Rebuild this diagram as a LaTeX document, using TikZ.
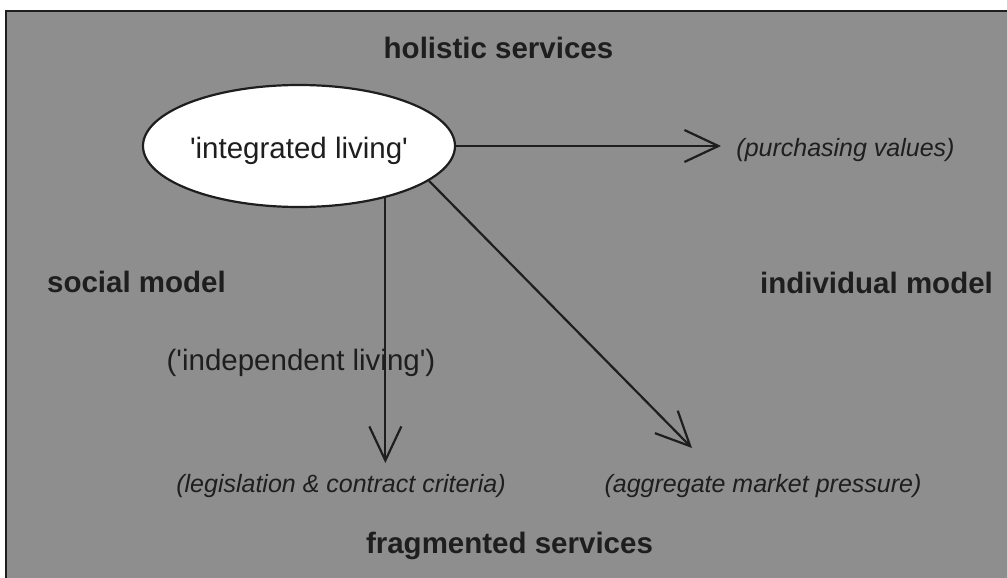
\documentclass[tikz,border=0pt]{standalone}
\usepackage{fontspec}
\setmainfont{Liberation Sans}
\usetikzlibrary{arrows.meta,shapes.geometric}
\definecolor{bg}{RGB}{142,142,142}
\definecolor{ink}{RGB}{30,30,30}
\begin{document}
\begin{tikzpicture}[x=1pt,y=-1pt,
  heading/.style={font=\fontsize{29.5}{32}\selectfont\bfseries, text=ink, anchor=base, inner sep=0pt},
  plain/.style={font=\fontsize{29.5}{32}\selectfont, text=ink, anchor=base, inner sep=0pt},
  note/.style={font=\fontsize{25}{28}\selectfont\itshape, text=ink, anchor=base, inner sep=0pt},
  arr/.style={draw=ink, line width=2.2pt, -{Straight Barb[length=34pt,width=32pt]}},
  bubble/.style={ellipse, draw=ink, line width=2.2pt, fill=white, minimum width=312pt, minimum height=122pt, inner sep=0pt, text height=27pt, text depth=3pt, font=\fontsize{29.5}{32}\selectfont, text=ink},
]
\useasboundingbox (0,0) rectangle (1007,578);
\fill[white] (0,0) rectangle (1007,578);
\filldraw[fill=bg, draw=ink, line width=2pt] (6,11) rectangle (1012,584);

\node[bubble] (ell) at (299,146) {\textquotesingle integrated living\textquotesingle};

\node[heading] (hol) at (498.5,59) {holistic services};
\node[heading] (frag) at (509.5,553) {fragmented services};
\node[heading] (soc) at (136.5,292) {social model};
\node[heading] (ind) at (876.5,293) {individual model};
\node[plain] (indep) at (301,370) {(\textquotesingle independent living\textquotesingle)};
\node[note] (pur) at (845.5,156) {(purchasing values)};
\node[note] (leg) at (341,492) {(legislation \& contract criteria)};
\node[note] (agg) at (763,492) {(aggregate market pressure)};

\coordinate (t1) at (721,146);
\coordinate (t2) at (383,463);
\coordinate (t3) at (692,448);

\draw[arr] (ell.east) -- (t1);
\draw[arr] (ell.-31.5) -- (ell.-31.5 |- t2);
\draw[arr] (ell.-15) -- (t3);
\end{tikzpicture}
\end{document}
